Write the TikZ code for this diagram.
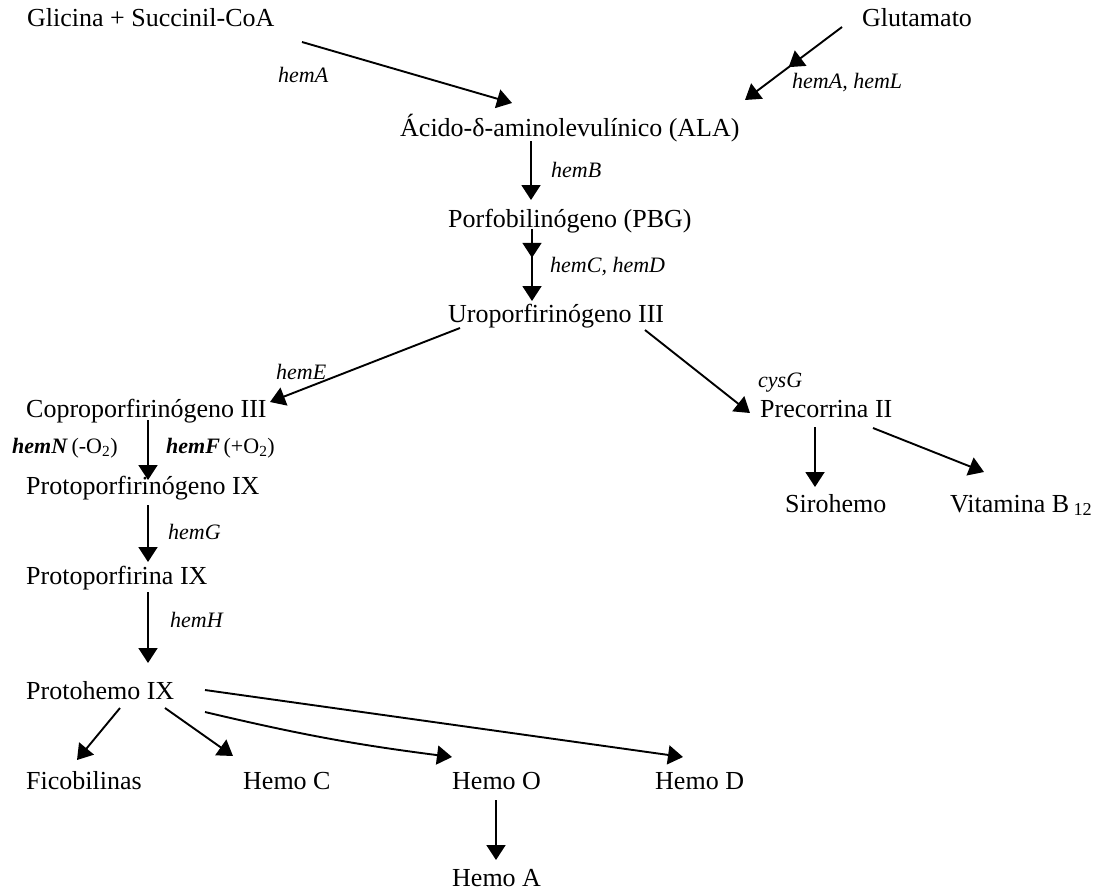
\documentclass[tikz,border=0pt]{standalone}
\usepackage{fontspec}
\setmainfont{Liberation Serif}
\usetikzlibrary{arrows.meta,decorations.markings}
\begin{document}
\begin{tikzpicture}[x=1pt,y=-1pt,
  txt/.style={anchor=base west,inner sep=0pt,font=\fontsize{26}{30}\selectfont},
  lab/.style={anchor=base west,inner sep=0pt,font=\fontsize{22}{26}\selectfont\itshape},
  arr/.style={line width=1.9pt,-{Triangle[length=15pt,width=19pt]}},
  midarr/.style={postaction={decorate},decoration={markings,mark=at position #1 with {\arrow{Triangle[length=15pt,width=19pt]}}}}
]
\useasboundingbox (0,0) rectangle (1116,892);
% texts
\node[txt] (gli) at (27,26) {Glicina + Succinil-CoA};
\node[txt] (glu) at (862,26) {Glutamato};
\node[lab] (lA) at (278,82) {hemA};
\node[lab] (lAL) at (792,88) {hemA, hemL};
\node[txt] (ala) at (400,136) {Ácido-δ-aminolevulínico (ALA)};
\node[lab] (lB) at (551,177) {hemB};
\node[txt] (pbg) at (448,227) {Porfobilinógeno (PBG)};
\node[lab] (lCD) at (550,272) {hemC, hemD};
\node[txt] (uro) at (448,322) {Uroporfirinógeno III};
\node[lab] (lE) at (276,379) {hemE};
\node[lab] (lG1) at (758,387) {cysG};
\node[txt] (cop) at (26,417) {Coproporfirinógeno III};
\node[txt] (pre) at (760,417) {Precorrina II};
\node[txt,font=\fontsize{22}{26}\selectfont] (lN) at (12,453) {\textbf{\textit{hemN}}\,(-O\textsubscript{2})};
\node[txt,font=\fontsize{22}{26}\selectfont] (lF) at (166,453) {\textbf{\textit{hemF}}\,(+O\textsubscript{2})};
\node[txt] (ppg) at (26,494) {Protoporfirinógeno IX};
\node[txt] (sir) at (785,512) {Sirohemo};
\node[txt] (vit) at (950,512) {Vitamina B\,\textsubscript{12}};
\node[lab] (lG) at (168,539) {hemG};
\node[txt] (ppf) at (26,584) {Protoporfirina IX};
\node[lab] (lH) at (170,627) {hemH};
\node[txt] (phe) at (26,699) {Protohemo IX};
\node[txt] (fic) at (26,789) {Ficobilinas};
\node[txt] (hc) at (243,789) {Hemo C};
\node[txt] (ho) at (452,789) {Hemo O};
\node[txt] (hd) at (655,789) {Hemo D};
\node[txt] (ha) at (452,886) {Hemo A};
% arrow end points
\coordinate (a1s) at (302,42);  \coordinate (a1e) at (512,103);
\coordinate (a2s) at (842,27);  \coordinate (a2e) at (745,100);
\coordinate (a3s) at (531,141); \coordinate (a3e) at (531,200);
\coordinate (a4s) at (532,229); \coordinate (a4e) at (532,301);
\coordinate (a5s) at (460,328); \coordinate (a5e) at (270,402);
\coordinate (a6s) at (645,330); \coordinate (a6e) at (750,413);
\coordinate (a7s) at (148,420); \coordinate (a7e) at (148,480);
\coordinate (a8s) at (815,427); \coordinate (a8e) at (815,487);
\coordinate (a9s) at (873,428); \coordinate (a9e) at (984,472);
\coordinate (a10s) at (148,505); \coordinate (a10e) at (148,562);
\coordinate (a11s) at (148,592); \coordinate (a11e) at (148,663);
\coordinate (a12s) at (120,708); \coordinate (a12e) at (77,760);
\coordinate (a13s) at (165,708); \coordinate (a13e) at (233,756);
\coordinate (a14s) at (205,712); \coordinate (a14e) at (452,757);
\coordinate (a15s) at (205,690); \coordinate (a15e) at (683,757);
\coordinate (a16s) at (496,800); \coordinate (a16e) at (496,860);
% arrows
\draw[arr] (a1s) -- (a1e);
\draw[arr,midarr=0.55] (a2s) -- (a2e);
\draw[arr] (a3s) -- (a3e);
\draw[arr,midarr=0.4] (a4s) -- (a4e);
\draw[arr] (a5s) -- (a5e);
\draw[arr] (a6s) -- (a6e);
\draw[arr] (a7s) -- (a7e);
\draw[arr] (a8s) -- (a8e);
\draw[arr] (a9s) -- (a9e);
\draw[arr] (a10s) -- (a10e);
\draw[arr] (a11s) -- (a11e);
\draw[arr] (a12s) -- (a12e);
\draw[arr] (a13s) -- (a13e);
\draw[arr] (a14s) to[bend right=3] (a14e);
\draw[arr] (a15s) -- (a15e);
\draw[arr] (a16s) -- (a16e);
\end{tikzpicture}
\end{document}
